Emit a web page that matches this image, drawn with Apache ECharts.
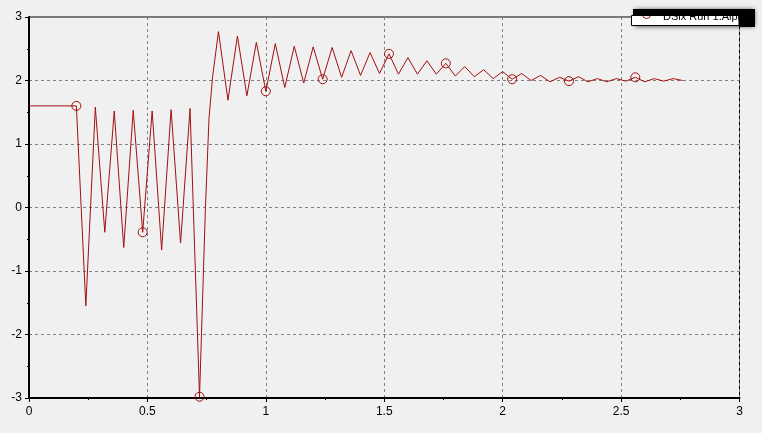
<!DOCTYPE html>
<html>
<head>
<meta charset="utf-8">
<script src="https://cdn.jsdelivr.net/npm/echarts@6/dist/echarts.min.js"></script>
<style>
html,body{margin:0;padding:0;background:#f0f0f0;}
#c{width:762px;height:433px;}
</style>
</head>
<body>
<div id="c"></div>
<script>
const seriesName = 'DSix Run 1.Alpha';
const times = [0, 0.2, 0.24, 0.28, 0.32, 0.36, 0.40, 0.44, 0.48, 0.52, 0.56, 0.60, 0.64, 0.68, 0.72,
  0.745, 0.76, 0.775, 0.80, 0.84, 0.88, 0.92, 0.96, 1.00, 1.04, 1.08, 1.12, 1.16, 1.20, 1.24,
  1.28, 1.32, 1.36, 1.40, 1.44, 1.48, 1.52, 1.56, 1.60, 1.64, 1.68, 1.72, 1.76, 1.80, 1.84,
  1.88, 1.92, 1.96, 2.00, 2.04, 2.08, 2.12, 2.16, 2.20, 2.24, 2.28, 2.32, 2.36, 2.40, 2.44,
  2.48, 2.52, 2.56, 2.60, 2.64, 2.68, 2.72, 2.76];
const alpha = [1.6, 1.6, -1.55, 1.58, -0.39, 1.52, -0.63, 1.53, -0.39, 1.52, -0.67, 1.54, -0.56, 1.56, -2.98,
  0.0, 1.4, 2.05, 2.77, 1.69, 2.70, 1.76, 2.60, 1.83, 2.58, 1.89, 2.54, 1.96, 2.53, 2.02,
  2.52, 2.05, 2.47, 2.08, 2.44, 2.11, 2.42, 2.10, 2.36, 2.10, 2.31, 2.10, 2.27, 2.07, 2.22,
  2.06, 2.17, 2.03, 2.14, 2.02, 2.11, 2.00, 2.08, 1.98, 2.05, 1.99, 2.06, 1.98, 2.03, 1.98,
  2.03, 1.99, 2.05, 1.98, 2.03, 1.99, 2.03, 2.00];
const markerTimes = [0.2, 0.48, 0.72, 1.00, 1.24, 1.52, 1.76, 2.04, 2.28, 2.56];
const xTicks = ['0', '0.5', '1', '1.5', '2', '2.5', '3'];
const yTicks = ['-3', '-2', '-1', '0', '1', '2', '3'];

const RED = '#a01010';
const FONT = 'Liberation Sans';

const lineData = times.map((t, i) => {
  const isMarker = markerTimes.some(m => Math.abs(m - t) < 1e-6);
  return isMarker ? { value: [t, alpha[i]], symbol: 'circle', symbolSize: 9 }
                  : { value: [t, alpha[i]], symbol: 'none' };
});

const chart = echarts.init(document.getElementById('c'), null, { renderer: 'canvas' });
chart.setOption({
  animation: false,
  backgroundColor: '#f0f0f0',
  grid: { left: 29, right: 22.5, top: 17, bottom: 35, show: true, borderColor: '#000', borderWidth: 1, backgroundColor: 'transparent' },
  xAxis: {
    type: 'value', min: 0, max: 3, interval: 0.5,
    axisLine: { show: true, onZero: false, lineStyle: { color: '#000', width: 2 } },
    axisTick: { show: true, inside: false, length: 4, lineStyle: { color: '#000' } },
    minorTick: { show: true, splitNumber: 2, length: 2, lineStyle: { color: '#000' } },
    axisLabel: { color: '#000', fontFamily: FONT, fontSize: 12, margin: 8,
      formatter: v => xTicks[Math.round(v / 0.5)] },
    splitLine: { show: true, lineStyle: { color: '#808080', type: [3, 3], width: 1 } }
  },
  yAxis: {
    type: 'value', min: -3, max: 3, interval: 1,
    axisLine: { show: true, onZero: false, lineStyle: { color: '#000', width: 2 } },
    axisTick: { show: true, inside: false, length: 4, lineStyle: { color: '#000' } },
    minorTick: { show: true, splitNumber: 2, length: 2, lineStyle: { color: '#000' } },
    axisLabel: { color: '#000', fontFamily: FONT, fontSize: 12, margin: 7,
      formatter: v => yTicks[Math.round(v + 3)] },
    splitLine: { show: true, lineStyle: { color: '#808080', type: [3, 3], width: 1 } }
  },
  series: [{
    name: seriesName,
    type: 'line',
    data: lineData,
    symbol: 'none',
    showSymbol: true,
    showAllSymbol: true,
    clip: true,
    lineStyle: { color: RED, width: 1 },
    itemStyle: { color: 'rgba(0,0,0,0)', borderColor: RED, borderWidth: 1 },
    emphasis: { disabled: true }
  }],
  graphic: [{
    type: 'group', z: 100, silent: true,
    children: [
      { type: 'rect', z2: 1, shape: { x: 635, y: 10, width: 119, height: 16 },
        style: { fill: '#000', shadowBlur: 5, shadowColor: 'rgba(0,0,0,0.85)' } },
      { type: 'rect', z2: 2, shape: { x: 631.5, y: 15.5, width: 107.5, height: 10 },
        style: { fill: '#fff', stroke: '#000', lineWidth: 1 } },
      { type: 'circle', z2: 3, shape: { cx: 646.5, cy: 14.5, r: 4 },
        style: { fill: 'none', stroke: RED, lineWidth: 1 } },
      { type: 'text', z2: 3, x: 663, y: 16.5,
        style: { text: seriesName, fill: '#000', font: '11px "Liberation Sans"', verticalAlign: 'middle', align: 'left' } },
      { type: 'rect', z2: 10, shape: { x: 633, y: 9, width: 121, height: 6.5 },
        style: { fill: '#000' } },
      { type: 'rect', z2: 10, shape: { x: 739, y: 9, width: 16, height: 18 },
        style: { fill: '#000' } }
    ]
  }]
});
</script>
</body>
</html>
